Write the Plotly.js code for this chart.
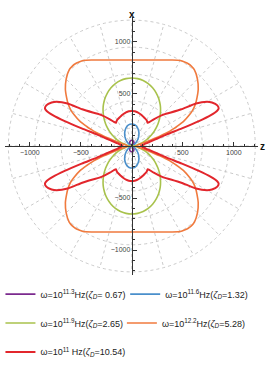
<!DOCTYPE html>
<html><head><meta charset="utf-8">
<script src="https://cdn.plot.ly/plotly-3.0.1.min.js"></script>
<style>html,body{margin:0;padding:0;background:#fff;} #chart{width:271px;height:368px;}</style>
</head><body><div id="chart"></div>
<script>
// polar samples for the first quadrant, angle measured from the +z axis (degrees)
const thetaDeg = [0,5,10,13,16,18,19,20,21,22,23,25,28,30,33,36,40,45,50,53,55,57,60,65,70,75,80,85,90];
const rPurple = [0,0,2,3,4,5,6,6,7,8,8,10,12,14,16,19,23,28,32,35,37,39,41,45,49,51,53,55,55];
const rBlue   = [0,0,1,2,4,6,7,8,10,11,13,17,23,28,36,45,59,78,98,111,119,127,140,159,177,192,203,210,212];
const rGreen  = [0,17,47,70,95,112,122,131,140,150,160,180,210,231,263,295,337,389,438,467,485,502,527,564,596,621,639,650,654];
const rOrange = [40,45,60,90,150,230,290,350,400,440,480,560,640,690,745,790,850,910,955,965,965,960,950,912,880,856,840,830,827];
const rRed    = [90,110,140,180,260,360,520,700,830,900,925,925,890,850,750,600,500,420,335,290,272,278,288,297,308,318,328,335,337];

const seriesNames = [
  'ω=10<sup>11.3</sup>Hz(<i>ζ<sub>D</sub></i>= 0.67)',
  'ω=10<sup>11.6</sup>Hz(<i>ζ<sub>D</sub></i>=1.32)',
  'ω=10<sup>11.9</sup>Hz(<i>ζ<sub>D</sub></i>=2.65)',
  'ω=10<sup>12.2</sup>Hz(<i>ζ<sub>D</sub></i>=5.28)',
  'ω=10<sup>11</sup> Hz(<i>ζ<sub>D</sub></i>=10.54)'
];
const seriesColors = ['#7B2A8E','#4A8FCB','#A8C24C','#F07A3E','#E2262C'];
const seriesLegends = ['legend','legend2','legend3','legend4','legend5'];
const seriesR = [rPurple, rBlue, rGreen, rOrange, rRed];

const gridRadii = [172,432,691,950,1210];
const gridAngles = [0,15,30,45,60,75,90,105,120,135,150,165,180,195,210,225,240,255,270,285,300,315,330,345];
const tickVals = [-1000,-500,500,1000];

function closedCurve(theta, r) {
  const t = [], rr = [];
  const n = theta.length;
  for (let i = 0; i < n; i++) { t.push(theta[i]); rr.push(r[i]); }
  for (let i = n - 2; i >= 0; i--) { t.push(180 - theta[i]); rr.push(r[i]); }
  for (let i = 1; i < n; i++) { t.push(180 + theta[i]); rr.push(r[i]); }
  for (let i = n - 2; i >= 0; i--) { t.push(360 - theta[i]); rr.push(r[i]); }
  const x = [], y = [];
  for (let i = 0; i < t.length; i++) {
    const a = t[i] * Math.PI / 180;
    x.push(rr[i] * Math.cos(a));
    y.push(rr[i] * Math.sin(a));
  }
  return {x, y};
}

const traces = seriesR.map((r, k) => {
  const c = closedCurve(thetaDeg, r);
  return {
    type: 'scatter', mode: 'lines', x: c.x, y: c.y,
    name: seriesNames[k], legend: seriesLegends[k],
    line: {color: seriesColors[k], width: k === 4 ? 2 : 1.6, shape: 'spline', smoothing: 0.6},
    hoverinfo: 'skip'
  };
});

const gridStyle = {color: '#c4c4c4', width: 0.9, dash: 'dot'};
const shapes = [];
gridRadii.forEach(R => shapes.push({type: 'circle', xref: 'x', yref: 'y', x0: -R, x1: R, y0: -R, y1: R, line: gridStyle, layer: 'below'}));
const Rmax = gridRadii[gridRadii.length - 1];
gridAngles.forEach(a => {
  const rad = a * Math.PI / 180;
  shapes.push({type: 'line', xref: 'x', yref: 'y', x0: 0, y0: 0, x1: Rmax * Math.cos(rad), y1: Rmax * Math.sin(rad), line: gridStyle, layer: 'below'});
});

const axisCommon = {
  showline: true, linecolor: '#333', linewidth: 1, showgrid: false, zeroline: false,
  tickmode: 'array', tickvals: tickVals, ticks: 'inside', ticklen: 4, tickcolor: '#333', tickwidth: 1,
  tickfont: {size: 7, color: '#444', family: 'Liberation Sans, Arial, sans-serif'},
  minor: {tickmode: 'linear', tick0: 0, dtick: 100, ticks: 'inside', ticklen: 2, tickcolor: '#333', showgrid: false},
  fixedrange: true, anchor: 'free'
};

function leg(x, y) {
  return {orientation: 'v', xanchor: 'left', yanchor: 'middle', x: x, y: y,
    font: {size: 9, color: '#222', family: 'Liberation Sans, Arial, sans-serif'},
    bgcolor: 'rgba(0,0,0,0)', borderwidth: 0, itemwidth: 30, tracegroupgap: 0};
}

const layout = {
  width: 271, height: 368,
  margin: {l: 0, r: 13, t: 17, b: 93},
  paper_bgcolor: '#fff', plot_bgcolor: '#fff',
  xaxis: Object.assign({}, axisCommon, {range: [-1243, 1237], position: 0.5}),
  yaxis: Object.assign({}, axisCommon, {range: [-1240, 1240], position: 0.5012}),
  shapes: shapes,
  showlegend: true,
  legend:  leg(-0.018, -0.074),
  legend2: leg(0.475, -0.074),
  legend3: leg(-0.018, -0.186),
  legend4: leg(0.462, -0.186),
  legend5: leg(-0.018, -0.298),
  annotations: [
    {text: '<b>x</b>', xref: 'paper', yref: 'paper', x: 0.5012, y: 1.039, showarrow: false, font: {size: 10, color: '#111', family: 'Liberation Sans, Arial, sans-serif'}},
    {text: '<b>z</b>', xref: 'paper', yref: 'paper', x: 1.035, y: 0.5, showarrow: false, font: {size: 10, color: '#111', family: 'Liberation Sans, Arial, sans-serif'}}
  ]
};

Plotly.newPlot('chart', traces, layout, {displayModeBar: false, staticPlot: true});
</script></body></html>
